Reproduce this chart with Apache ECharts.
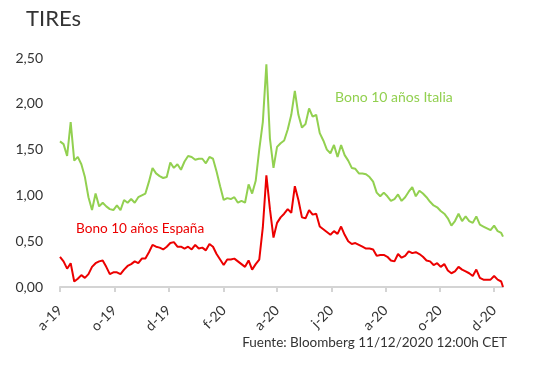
<!DOCTYPE html>
<html>
<head>
<meta charset="utf-8">
<script src="https://cdn.jsdelivr.net/npm/echarts@6/dist/echarts.min.js"></script>
<style>
html,body{margin:0;padding:0;background:#fff;}
#c{width:547px;height:370px;}
</style>
</head>
<body>
<div id="c"></div>
<script>
// Data: one point every 4 days from 1 Aug 2019, last point 11 Dec 2020
const startDate = '2019-08-01';
const stepDays = 4;
const lastDate = '2020-12-11';

const italia = [
1.59,1.56,1.43,1.80,1.38,1.42,1.34,1.20,0.98,0.84,
1.02,0.88,0.92,0.88,0.85,0.84,0.89,0.84,0.95,0.92,
0.96,0.92,0.98,1.00,1.02,1.15,1.30,1.24,1.21,1.19,
1.20,1.36,1.30,1.34,1.28,1.37,1.43,1.42,1.39,1.40,
1.40,1.35,1.42,1.40,1.26,1.10,0.95,0.97,0.96,0.98,
0.92,0.94,0.92,1.12,1.02,1.16,1.50,1.80,2.43,1.62,
1.30,1.53,1.57,1.60,1.72,1.88,2.14,1.88,1.74,1.78,
1.95,1.86,1.88,1.68,1.60,1.50,1.46,1.55,1.42,1.55,
1.44,1.38,1.30,1.29,1.24,1.24,1.23,1.20,1.15,1.03,
0.99,1.03,0.99,0.94,0.96,1.01,0.94,0.98,1.04,1.09,
0.99,1.05,1.02,0.98,0.93,0.89,0.87,0.83,0.80,0.75,
0.67,0.72,0.80,0.72,0.77,0.72,0.70,0.77,0.68,0.66,
0.64,0.62,0.67,0.61,0.59,0.55
];

const espana = [
0.33,0.28,0.20,0.26,0.06,0.09,0.13,0.10,0.14,0.22,
0.26,0.28,0.29,0.22,0.14,0.16,0.16,0.14,0.19,0.23,
0.25,0.28,0.26,0.31,0.31,0.38,0.46,0.44,0.43,0.41,
0.44,0.48,0.49,0.44,0.44,0.42,0.44,0.41,0.46,0.42,
0.43,0.40,0.47,0.44,0.36,0.30,0.24,0.30,0.30,0.31,
0.28,0.25,0.22,0.29,0.19,0.25,0.30,0.65,1.22,0.85,
0.54,0.70,0.76,0.80,0.85,0.81,1.10,0.95,0.76,0.75,
0.84,0.79,0.80,0.66,0.63,0.60,0.57,0.61,0.58,0.66,
0.57,0.50,0.47,0.48,0.46,0.44,0.42,0.42,0.41,0.34,
0.35,0.35,0.33,0.29,0.28,0.36,0.32,0.34,0.39,0.37,
0.38,0.36,0.33,0.29,0.28,0.24,0.26,0.22,0.25,0.18,
0.15,0.17,0.22,0.19,0.17,0.15,0.12,0.19,0.10,0.08,
0.08,0.08,0.12,0.08,0.06,0.00
];

const tickDates = ['2019-08-01','2019-10-01','2019-12-01','2020-02-01','2020-04-01','2020-06-01','2020-08-01','2020-10-01','2020-12-01'];
const tickLabels = ['a-19','o-19','d-19','f-20','a-20','j-20','a-20','o-20','d-20'];

const seriesNames = ['Bono 10 años Italia','Bono 10 años España'];
const colors = ['#92d050','#ec0000'];

function ts(s){ const p=s.split('-'); return Date.UTC(+p[0], +p[1]-1, +p[2]); }
const DAY = 86400000;
const dates = [];
for (let i = 0; i < italia.length - 1; i++) dates.push(ts(startDate) + i*stepDays*DAY);
dates.push(ts(lastDate));

const tickTs = tickDates.map(ts);
const labelMap = {};
tickTs.forEach((t,i)=>{ labelMap[t] = tickLabels[i]; });

const FONT = 'Lato';
const chart = echarts.init(document.getElementById('c'), null, {renderer:'canvas'});
chart.setOption({
  animation:false,
  backgroundColor:'#ffffff',
  textStyle:{fontFamily:FONT},
  grid:{left:60, right:44, top:58, bottom:83, containLabel:false},
  xAxis:{
    type:'value',
    min: ts(startDate),
    max: ts(lastDate),
    axisLine:{show:true, lineStyle:{color:'#d4d4d4', width:2}},
    axisTick:{show:true, customValues:tickTs, length:5, lineStyle:{color:'#d4d4d4', width:2}},
    axisLabel:{
      customValues:tickTs,
      rotate:45,
      margin:21,
      color:'#333',
      fontSize:14,
      fontFamily:FONT,
      formatter:function(v){ return labelMap[v] || ''; }
    },
    splitLine:{show:false}
  },
  yAxis:{
    type:'value',
    min:0, max:2.5, interval:0.5,
    axisLine:{show:false},
    axisTick:{show:false},
    splitLine:{show:false},
    axisLabel:{
      color:'#333', fontSize:14, fontFamily:FONT, margin:17,
      formatter:function(v){ return v.toFixed(2).replace('.', ','); }
    }
  },
  series:[
    {name:seriesNames[0], type:'line', showSymbol:false, color:colors[0],
     lineStyle:{width:2, color:colors[0]},
     data: dates.map((d,i)=>[d, italia[i]])},
    {name:seriesNames[1], type:'line', showSymbol:false, color:colors[1],
     lineStyle:{width:2, color:colors[1]},
     data: dates.map((d,i)=>[d, espana[i]])}
  ],
  graphic:[
    {type:'text', left:26, top:8, style:{text:'TIREs', fill:'#333', font:'22px '+FONT}},
    {type:'text', left:335, top:90, style:{text:seriesNames[0], fill:colors[0], font:'14px '+FONT}},
    {type:'text', left:76, top:222, style:{text:seriesNames[1], fill:colors[1], font:'13.6px '+FONT}},
    {type:'text', right:40, top:336, style:{text:'Fuente: Bloomberg 11/12/2020 12:00h CET', fill:'#333', font:'13.5px '+FONT}}
  ]
});
</script>
</body>
</html>
